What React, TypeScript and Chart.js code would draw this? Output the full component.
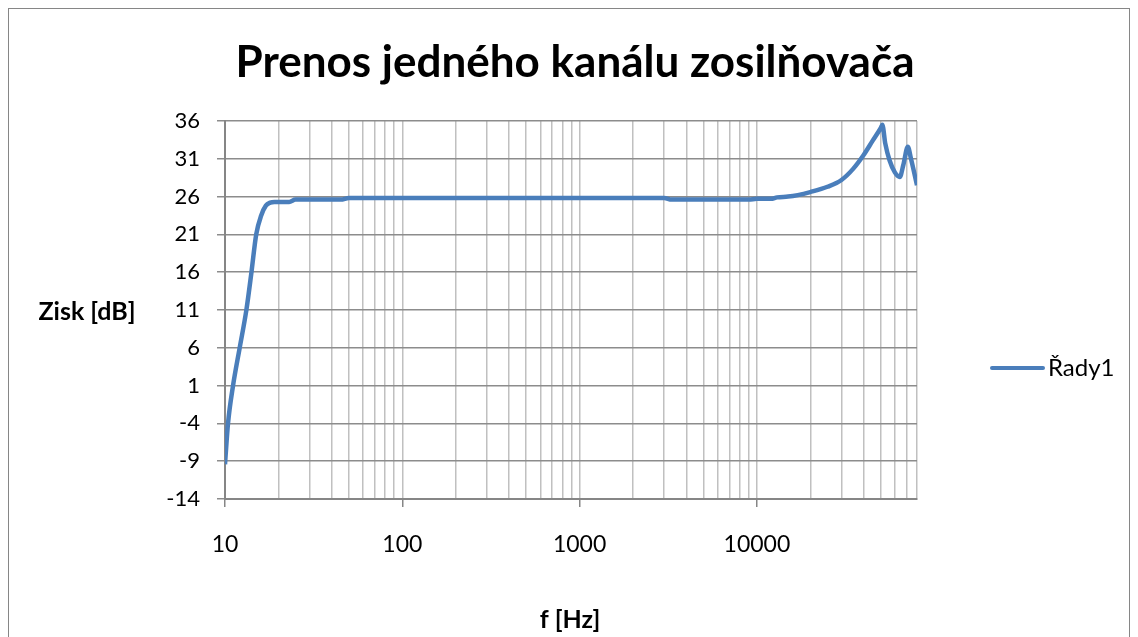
import React, { useEffect, useRef } from "react";
import { Chart, registerables } from "chart.js";

Chart.register(...registerables);

const titleText = "Prenos jedného kanálu zosilňovača";
const xTitle = "f [Hz]";
const yTitle = "Zisk [dB]";
const seriesName = "Řady1";

const freqs = [
  10, 10.4, 11.1, 12.1, 13.2, 14.1, 15, 16, 17, 18, 19, 20, 23, 25, 30, 40, 45,
  50, 100, 200, 500, 1000, 2000, 3000, 3300, 5000, 9000, 10000, 12000, 13000,
  15000, 17000, 20000, 25000, 30000, 35000, 40000, 45000, 50000, 51000, 53000,
  56000, 60000, 64000, 67000, 71000, 74000, 80000,
];
const gains = [
  -9.4, -4, 1, 6, 11, 16, 21, 23.5, 24.8, 25.2, 25.3, 25.3, 25.3, 25.6, 25.6,
  25.6, 25.6, 25.8, 25.8, 25.8, 25.8, 25.8, 25.8, 25.8, 25.6, 25.6, 25.6, 25.7,
  25.7, 25.9, 26.0, 26.2, 26.6, 27.3, 28.2, 29.7, 31.5, 33.4, 35.1, 35.5, 33.0,
  30.8, 29.2, 28.6, 30.2, 32.6, 31.0, 27.5,
];
const yTicks = [-14, -9, -4, 1, 6, 11, 16, 21, 26, 31, 36];
const xMajor = [10, 100, 1000, 10000];

const FONT = "Lato, 'Noto Sans', sans-serif";

const textPlugin = {
  id: "texts",
  afterDraw(chart: any) {
    const ctx = chart.ctx;
    ctx.save();
    ctx.fillStyle = "#000";
    ctx.textBaseline = "middle";
    ctx.textAlign = "center";
    ctx.font = `bold 44px ${FONT}`;
    ctx.fillText(titleText, 566, 54);
    ctx.font = `bold 25px ${FONT}`;
    ctx.fillText(yTitle, 78, 303);
    ctx.fillText(xTitle, 561, 611);
    // legend
    ctx.strokeStyle = "#4a7ebb";
    ctx.lineWidth = 4;
    ctx.lineCap = "round";
    ctx.beginPath();
    ctx.moveTo(983, 359);
    ctx.lineTo(1034, 359);
    ctx.stroke();
    ctx.textAlign = "left";
    ctx.font = `24px ${FONT}`;
    ctx.fillText(seriesName, 1039, 359);
    ctx.restore();
  },
};

export default function App() {
  const ref = useRef<HTMLCanvasElement>(null);
  useEffect(() => {
    if (!ref.current) return;
    const xTickVals: number[] = [];
    for (const base of xMajor) {
      for (let m = 1; m <= 9; m++) {
        const v = base * m;
        if (v <= 80000) xTickVals.push(v);
      }
    }
    const chart = new Chart(ref.current, {
      type: "line",
      data: {
        datasets: [
          {
            label: seriesName,
            data: freqs.map((f, i) => ({ x: f, y: gains[i] })),
            borderColor: "#4a7ebb",
            borderWidth: 4.5,
            pointRadius: 0,
            cubicInterpolationMode: "monotone",
            fill: false,
          },
        ],
      },
      options: {
        responsive: false,
        animation: false,
        layout: { padding: { left: 0, right: 212, top: 112, bottom: 88 } },
        plugins: {
          legend: { display: false },
          title: { display: false },
          tooltip: { enabled: false },
        },
        scales: {
          x: {
            type: "logarithmic",
            min: 10,
            max: 80000,
            afterBuildTicks: (scale: any) => {
              scale.ticks = xTickVals.map((v) => ({ value: v }));
            },
            afterFit: (scale: any) => {
              scale.height = 60;
            },
            ticks: {
              autoSkip: false,
              maxRotation: 0,
              padding: 24,
              color: "#000",
              font: { family: FONT, size: 23 },
              callback: (v: any) => (xMajor.includes(Number(v)) ? String(v) : ""),
            },
            grid: {
              color: "#c0c0c0",
              lineWidth: 1.5,
              tickLength: 8,
              tickColor: (c: any) =>
                c.tick && xMajor.includes(c.tick.value) ? "#868686" : "rgba(0,0,0,0)",
            },
            border: { color: "#868686", width: 2 },
          },
          y: {
            type: "linear",
            min: -14,
            max: 36,
            afterBuildTicks: (scale: any) => {
              scale.ticks = yTicks.map((v) => ({ value: v }));
            },
            afterFit: (scale: any) => {
              scale.width = 216;
            },
            ticks: {
              padding: 17,
              color: "#000",
              font: { family: FONT, size: 22 },
            },
            grid: {
              color: "#8c8c8c",
              lineWidth: 1.5,
              tickLength: 8,
            },
            border: { color: "#868686", width: 2 },
          },
        },
      },
      plugins: [textPlugin],
    } as any);
    return () => chart.destroy();
  }, []);
  return (
    <div
      style={{
        width: 1122,
        height: 640,
        border: "1px solid #868686",
        boxSizing: "border-box",
        background: "#fff",
      }}
    >
      <canvas ref={ref} width={1120} height={638} style={{ display: "block" }} />
    </div>
  );
}
